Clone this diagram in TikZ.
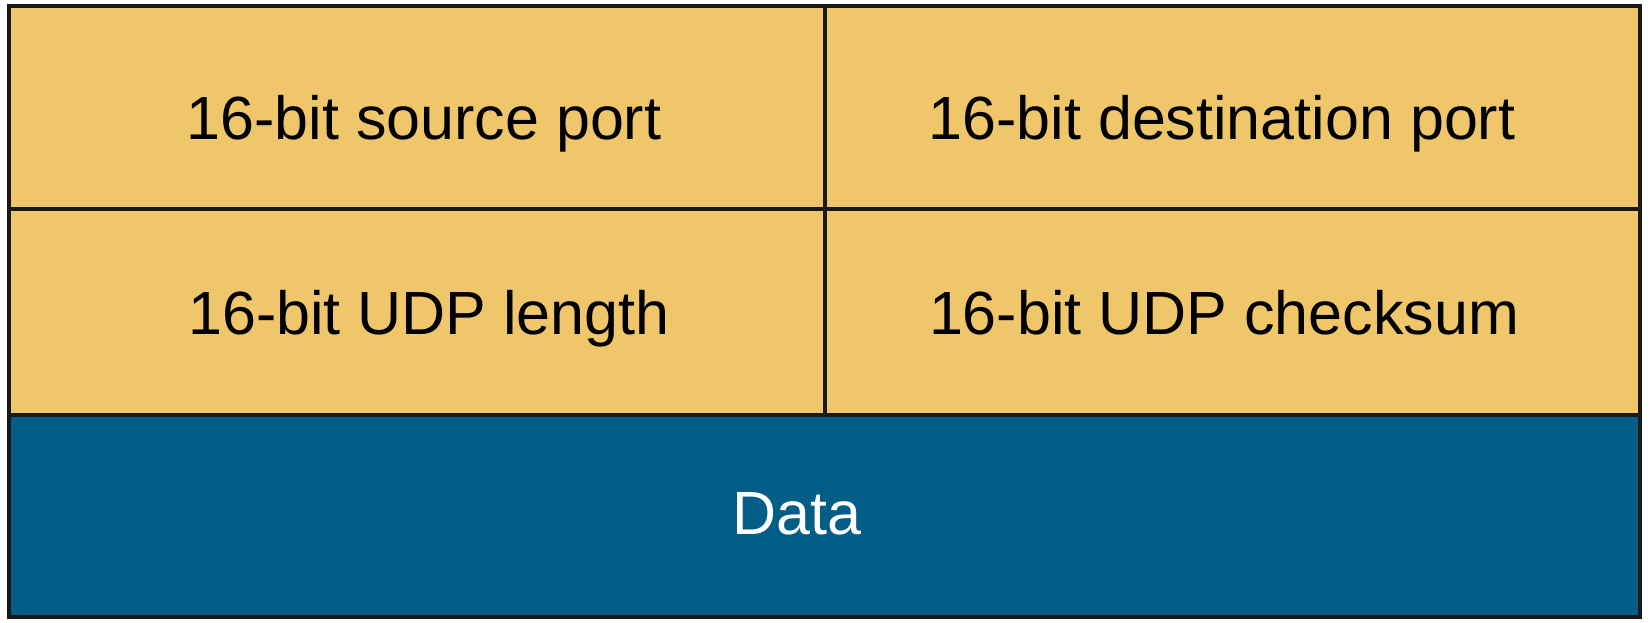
\documentclass[tikz,border=0pt]{standalone}
\usepackage{fontspec}
\setmainfont{Liberation Sans}
\definecolor{hdrfill}{RGB}{240,198,106}
\definecolor{datafill}{RGB}{2,94,134}
\begin{document}
\begin{tikzpicture}[x=1pt,y=-1pt,
  cell/.style={draw=black!90,line width=3.2pt,inner sep=0pt,outer sep=0pt,anchor=north west},
  hdr/.style={cell,fill=hdrfill},
  datacell/.style={cell,fill=datafill},
  lbl/.style={font=\fontsize{61}{70}\selectfont,text=black,anchor=base,inner sep=0pt},
  dlbl/.style={lbl,text=white}]
  \useasboundingbox (0,0) rectangle (1650,623);
  % UDP header fields
  \node[hdr,minimum width=816pt,minimum height=203pt] (src) at (9,6) {};
  \node[hdr,minimum width=815pt,minimum height=203pt] (dst) at (825,6) {};
  \node[hdr,minimum width=816pt,minimum height=206pt] (len) at (9,209) {};
  \node[hdr,minimum width=815pt,minimum height=206pt] (chk) at (825,209) {};
  % payload
  \node[datacell,minimum width=1631pt,minimum height=202pt] (data) at (9,415) {};
  % field labels, set on common baselines
  \node[lbl] (srct) at (424,140) {16-bit source port};
  \node[lbl] (dstt) at (1222,140) {16-bit destination port};
  \node[lbl] (lent) at (429,334) {16-bit UDP length};
  \node[lbl] (chkt) at (1224,334) {16-bit UDP checksum};
  \node[dlbl] (datat) at (797,534) {Data};
\end{tikzpicture}
\end{document}
